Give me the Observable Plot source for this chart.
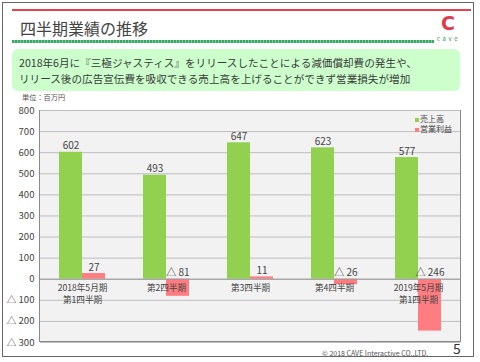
<!DOCTYPE html>
<html><head><meta charset="utf-8">
<script src="https://cdn.jsdelivr.net/npm/d3@7"></script>
<script src="https://cdn.jsdelivr.net/npm/@observablehq/plot@0.6"></script>
<style>
body{margin:0;background:#fff;font-family:"Noto Sans CJK JP","Noto Sans",sans-serif;}
#slide{position:relative;width:480px;height:362px;overflow:hidden;background:#fff;}
.abs{position:absolute;}
</style></head>
<body>
<div id="slide">
  <div class="abs" style="left:2px;top:2px;width:472px;height:355px;border:1.5px solid #666;box-sizing:border-box;"></div>
  <div class="abs" style="left:12px;top:9px;width:459px;height:2px;background:#e5424c;"></div>
  <div class="abs" style="left:20px;top:18px;font-size:16px;color:#444;line-height:20px;white-space:nowrap;">四半期業績の推移</div>
  <div class="abs" style="left:12px;top:40px;width:422px;height:3px;background:repeating-linear-gradient(90deg,#35a866 0 2px,#7ccf9c 2px 3px);"></div>
  <div class="abs" style="left:441px;top:12px;font-size:19px;font-weight:bold;color:#e03a48;line-height:22px;font-family:'DejaVu Sans';">C</div>
  <div class="abs" style="left:437px;top:35px;font-size:6px;color:#3a9a5a;letter-spacing:2.6px;line-height:8px;">cave</div>
  <div class="abs" style="left:12px;top:49px;width:448px;height:42px;background:#ccffcc;border-radius:6px;"></div>
  <div class="abs" style="left:19px;top:55px;font-size:10.6px;color:#3a3a3a;line-height:16px;white-space:nowrap;">2018年6月に『三極ジャスティス』をリリースしたことによる減価償却費の発生や、<br>リリース後の広告宣伝費を吸収できる売上高を上げることができず営業損失が増加</div>
  <div class="abs" style="left:22px;top:93px;font-size:7.2px;color:#555;line-height:9px;white-space:nowrap;">単位：百万円</div>
  <div class="abs" style="left:39px;top:110px;width:422px;height:232px;background:#f2f2f2;border:1.5px solid #8a8a8a;box-sizing:border-box;"></div>
  <div id="chart" class="abs" style="left:0;top:100px;"></div>
  <div id="legend" class="abs" style="left:415px;top:114px;font-size:8px;color:#444;line-height:10px;"></div>
  <div class="abs" style="left:322px;top:349px;font-size:7px;color:#555;line-height:9px;white-space:nowrap;">© 2018 CAVE Interactive CO.,LTD.</div>
  <div class="abs" style="left:453px;top:340px;font-size:14px;color:#333;line-height:16px;">5</div>
</div>
<script>
const categories = ["2018年5月期\n第1四半期", "第2四半期", "第3四半期", "第4四半期", "2019年5月期\n第1四半期"];
const seriesNames = ["売上高", "営業利益"];
const sales = [602, 493, 647, 623, 577];
const operatingProfit = [27, -81, 11, -26, -246];
const yTicks = [-300, -200, -100, 0, 100, 200, 300, 400, 500, 600, 700, 800];
const seriesColors = ["#92d050", "#ff7c80"];

const rows = [];
categories.forEach((c, i) => {
  rows.push({q: c, series: seriesNames[0], value: sales[i]});
  rows.push({q: c, series: seriesNames[1], value: operatingProfit[i]});
});
const fmt = d => d < 0 ? "△ " + (-d) : String(d);

const chart = Plot.plot({
  width: 480,
  height: 250,
  marginLeft: 39,
  marginRight: 19,
  marginTop: 10,
  marginBottom: 8,
  style: {background: "transparent", fontFamily: "'Noto Sans CJK JP', sans-serif", color: "#444"},
  fx: {domain: categories, padding: 0, axis: null},
  x: {domain: seriesNames, paddingInner: 0, paddingOuter: 0.756, axis: null},
  y: {domain: [-300, 800], axis: null},
  color: {domain: seriesNames, range: seriesColors},
  marks: [
    Plot.gridY(yTicks, {stroke: "#bdbdbd", strokeOpacity: 1}),
    Plot.barY(rows, {fx: "q", x: "series", y: "value", fill: "series"}),
    Plot.ruleY([0], {stroke: "#9a9a9a"}),
    Plot.text(rows, {fx: "q", x: "series", y: d => Math.max(d.value, 0), text: d => fmt(d.value), lineAnchor: "bottom", dy: -3, fontSize: 10, fill: "#444"}),
    Plot.text(categories, {fx: d => d, y: () => 0, text: d => d, lineAnchor: "top", dy: 4, fontSize: 8.6, lineHeight: 1.32, fill: "#444"}),
    Plot.axisY({ticks: yTicks, tickFormat: fmt, tickSize: 0, tickPadding: 6, fontSize: 9.6, label: null})
  ]
});
document.getElementById("chart").appendChild(chart);

const legend = document.getElementById("legend");
seriesNames.forEach((s, i) => {
  const row = document.createElement("div");
  row.style.whiteSpace = "nowrap";
  row.innerHTML = `<span style="display:inline-block;width:4px;height:4px;background:${seriesColors[i]};margin-right:1px;vertical-align:middle;"></span>${s}`;
  legend.appendChild(row);
});
</script>
</body></html>
